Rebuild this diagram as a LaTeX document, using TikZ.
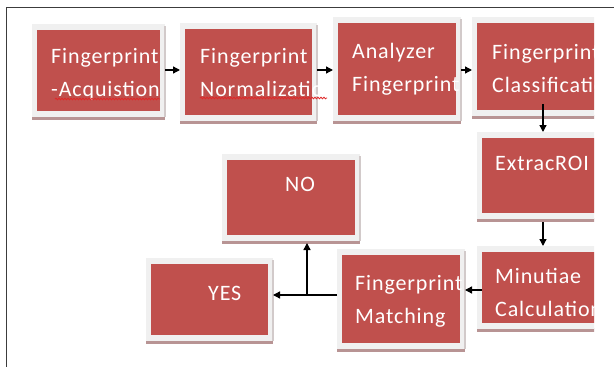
\documentclass[tikz,border=0pt]{standalone}
\usepackage{fontspec}
\setmainfont{Carlito}[LetterSpace=4]
\usetikzlibrary{arrows.meta,decorations.pathmorphing}

\definecolor{stagered}{HTML}{C0504D}
\definecolor{stageglow}{HTML}{F0F0F0}
\definecolor{stageedge}{HTML}{D2CACA}
\definecolor{stageshadow}{HTML}{B89494}
\definecolor{framegray}{HTML}{3C3C3C}
\definecolor{spellred}{HTML}{E02828}

\tikzset{
  glowbox/.style={draw=none, fill=stageglow, inner sep=0pt, outer sep=0pt, rectangle},
  redbox/.style={draw=none, fill=stagered, inner sep=0pt, outer sep=0pt, rectangle},
  stagetext/.style={anchor=base west, inner sep=0pt, text=white,
    font=\fontsize{22}{26}\selectfont},
  arr/.style={draw=black, line width=1.3pt, -{Triangle[length=7pt,width=7pt]}},
  link/.style={draw=black, line width=1.3pt},
  spell/.style={spellred, line width=0.8pt, decorate,
    decoration={snake, amplitude=0.8pt, segment length=3pt}}
}

% \stage{name}{x1}{y1}{x2}{y2}{text dx}{text dy}{line 1}{line 2}
% (x1,y1)-(x2,y2) is the red face; a light rim and a shadow bar surround it
\newcommand\stage[9]{%
  \fill[stageshadow] (#2-5,#5+5) rectangle (#4+5,#5+9);
  \node[glowbox, minimum width={#4-#2+10}, minimum height={#5-#3+12},
        anchor=north west] (#1) at (#2-5,#3-6) {};
  \fill[stageedge] (#4+4,#3-4) rectangle (#4+5.5,#5+6);
  \node[redbox, minimum width={#4-#2}, minimum height={#5-#3},
        anchor=north west] (#1in) at (#2,#3) {};
  \begin{scope}
    \clip (#2-5,#3-6) rectangle (#4+5,#5+6);
    \node[stagetext] at (#2+#6,#3+#7) {#8};
    \node[stagetext] at (#2+#6,#3+#7+33) {#9};
  \end{scope}}

\begin{document}
\begin{tikzpicture}[x=1pt,y=-1pt]
  \useasboundingbox (0,0) rectangle (614,367);
  \fill[white] (0,0) rectangle (614,367);

  % frame
  \draw[framegray, line width=1.5pt] (6.5,367) -- (6.5,7.5) -- (614,7.5);

  % stages
  \stage{acq}{37}{30}{160}{111}{14}{33}{Fingerprint}{-Acquistion}
  \stage{norm}{185}{29}{312}{115}{15}{34}{Fingerprint}{Normalization}
  \stage{ana}{338}{23}{456}{115}{14}{35}{Analyzer}{Fingerprint}
  \stage{match}{342}{255}{460}{343}{13}{35}{Fingerprint}{Matching}
  \stage{no}{227}{160}{355}{235}{58}{31}{NO}{}
  \stage{yes}{151}{264}{268}{335}{57}{36}{YES}{}
  \begin{scope}
    \clip (0,0) rectangle (594,367);
    \stage{cls}{477}{23}{600}{110}{15}{36}{Fingerprint}{Classification}
    \stage{roi}{482}{138}{600}{213}{13}{32}{ExtracROI}{}
    \stage{minu}{482}{252}{600}{323}{13}{31}{Minutiae}{Calculation}
  \end{scope}

  % spell-check underlines
  \draw[spell] (55,99) -- (160,99);
  \draw[spell] (200,98) -- (327,98);

  % helper positions for the connectors
  \coordinate (colx) at (543,0);
  \coordinate (rowtop) at (0,70);
  \coordinate (rowmin) at (0,290);
  \coordinate (j) at (307,295);

  % connectors
  \draw[arr] (acq.east |- rowtop) -- (norm.west |- rowtop);
  \draw[arr] (norm.east |- rowtop) -- (ana.west |- rowtop);
  \draw[arr] (ana.east |- rowtop) -- (cls.west |- rowtop);
  \draw[arr] ([yshift=6pt]clsin.south -| colx) -- (roi.north -| colx);
  \draw[arr] ([yshift=-3pt]roi.south -| colx) -- (minu.north -| colx);
  \draw[arr] (minuin.west |- rowmin) -- (match.east |- rowmin);
  \draw[link] (match.west |- j) -- (j);
  \draw[arr] (j) -- (yes.east |- j);
  \draw[arr] (j) -- ([yshift=-2pt]no.south -| j);
\end{tikzpicture}
\end{document}
